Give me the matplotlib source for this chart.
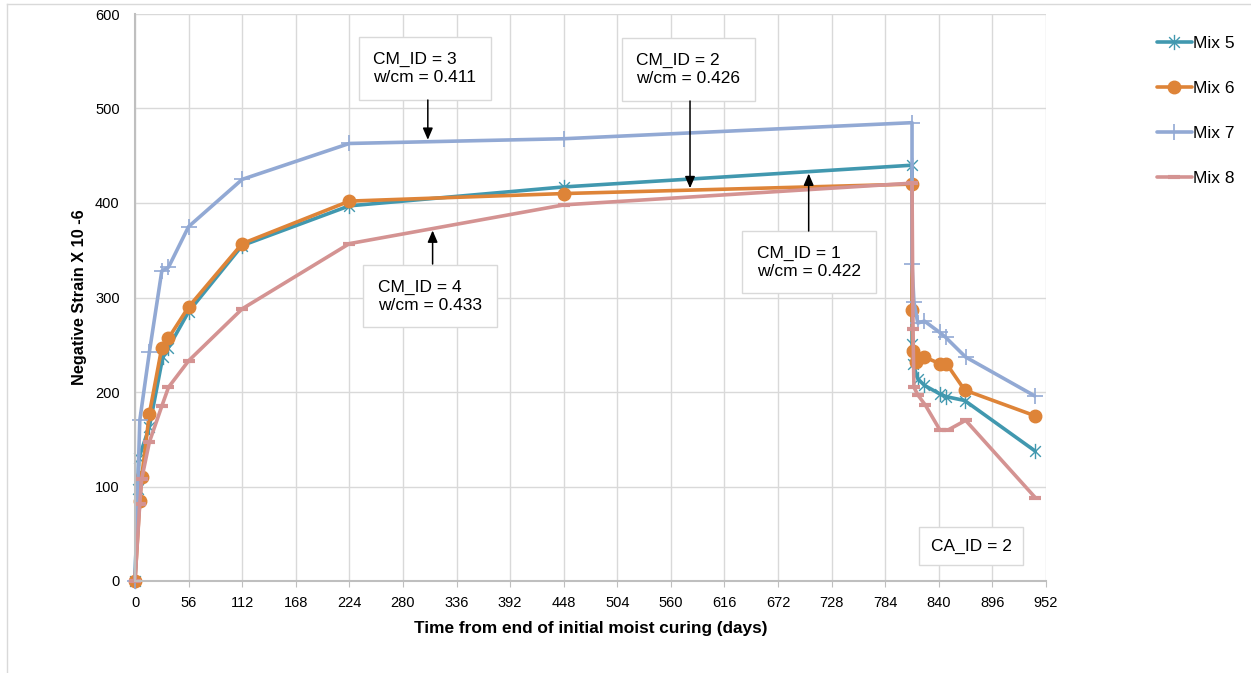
import numpy as np
import matplotlib
matplotlib.use("Agg")
import matplotlib.pyplot as plt
from matplotlib.path import Path
from matplotlib.lines import Line2D

plt.rcParams["font.family"] = ["Liberation Sans", "DejaVu Sans"]

# days after end of initial moist curing
days5 = [0, 3, 4, 15, 29, 35, 56, 112, 224, 448, 812, 812, 813, 818, 825, 841, 848, 867, 940]
days6 = [0, 5, 7, 15, 28, 35, 56, 112, 224, 448, 812, 812, 813, 816, 825, 841, 848, 867, 940]
days7 = [0, 5, 15, 28, 35, 56, 112, 224, 448, 812, 812, 814, 818, 825, 841, 847, 868, 940]
days8 = [0, 5, 7, 15, 28, 35, 56, 112, 224, 448, 812, 813, 814, 818, 826, 841, 850, 868, 941]

# negative strain x 10^-6
mix5 = [0, 97, 130, 163, 237, 247, 285, 355, 397, 417, 440, 251, 230, 214, 207, 198, 195, 191, 138]
mix6 = [0, 85, 110, 177, 247, 257, 290, 357, 402, 410, 420, 287, 243, 232, 237, 230, 230, 202, 175]
mix7 = [0, 170, 242, 328, 332, 375, 425, 463, 468, 485, 335, 295, 273, 275, 263, 258, 237, 196]
mix8 = [0, 82, 108, 147, 185, 205, 233, 288, 357, 398, 421, 267, 205, 197, 186, 160, 160, 170, 88]

labels = ["Mix 5", "Mix 6", "Mix 7", "Mix 8"]
xticks = list(range(0, 953, 56))
yticks = list(range(0, 601, 100))

# asterisk marker (x with a vertical bar)
star = Path([(0, -1), (0, 1), (-0.7, -0.7), (0.7, 0.7), (-0.7, 0.7), (0.7, -0.7)],
            [Path.MOVETO, Path.LINETO] * 3)

c5, c6, c7, c8 = "#4198AF", "#DE8438", "#92A9D4", "#D49392"

fig = plt.figure(figsize=(12.51, 6.73), dpi=100)
ax = fig.add_axes([135 / 1251, 1 - 581 / 673, 911 / 1251, 567 / 673])

kw = dict(lw=2.6, solid_joinstyle="round", solid_capstyle="round", clip_on=False)
ax.plot(days5, mix5, color=c5, marker=star, ms=11, mfc="none", mec=c5, mew=1.0, label=labels[0], **kw)
ax.plot(days6, mix6, color=c6, marker="o", ms=9, mec=c6, label=labels[1], **kw)
ax.plot(days7, mix7, color=c7, marker="+", ms=12, mew=1.2, label=labels[2], **kw)
ax.plot(days8, mix8, color=c8, marker="_", ms=8, mew=3, label=labels[3], **kw)

ax.set_xlim(0, 952)
ax.set_ylim(0, 600)
ax.set_xticks(xticks)
ax.set_yticks(yticks)
ax.grid(True, color="#d9d9d9", lw=1)
ax.set_axisbelow(True)
for s in ["top", "right"]:
    ax.spines[s].set_visible(False)
for s in ["left", "bottom"]:
    ax.spines[s].set_color("#bfbfbf")
    ax.spines[s].set_linewidth(1.5)
ax.tick_params(axis="x", length=4, color="#bfbfbf", pad=7, labelsize=10.5)
ax.tick_params(axis="y", length=0, pad=11, labelsize=10.5)

ax.set_xlabel("Time from end of initial moist curing (days)", fontsize=12.4, fontweight="bold")
ax.set_ylabel("Negative Strain X 10 -6", fontsize=11.7, fontweight="bold")
ax.xaxis.set_label_coords(0.5, -0.083)
ax.xaxis.label.set_va("center")
ax.yaxis.set_label_coords(-0.0604, 0.5)
ax.yaxis.label.set_va("center")

# callout boxes with arrows pointing at the curves
box = dict(boxstyle="square,pad=0.85", fc="white", ec="#d9d9d9", lw=1)
notes = [
    ("CM_ID = 3\nw/cm = 0.411", 249, 542, 306, days7[:10], mix7[:10], 100, 1),
    ("CM_ID = 2\nw/cm = 0.426", 524, 541, 580, days6[:11], mix6[:11], 101, 1),
    ("CM_ID = 4\nw/cm = 0.433", 254, 301.5, 311, days8[:11], mix8[:11], 264, -1),
    ("CM_ID = 1\nw/cm = 0.422", 650, 337.5, 704, days5[:11], mix5[:11], 231, -1),
]
for txt, tx, ty, ax_x, dx, dy, ypix, side in notes:
    ax.text(tx, ty, txt, fontsize=12.5, ha="left", va="center", bbox=box, linespacing=1.25)
    tip = np.interp(ax_x, dx, dy) + 2 * side
    start = (581 - ypix) / 0.945
    ax.annotate("", xy=(ax_x, tip), xytext=(ax_x, start),
                arrowprops=dict(arrowstyle="-|>,head_length=0.7,head_width=0.3", color="black", lw=1.1,
                                shrinkA=0, shrinkB=0))

ax.text((971 - 135) / 0.957, (581 - 546) / 0.945, "CA_ID = 2", fontsize=12.5,
        ha="center", va="center", bbox=dict(boxstyle="square,pad=0.65", fc="white", ec="#d9d9d9", lw=1))

fig.legend(loc="upper left", bbox_to_anchor=(1157 / 1251, 1 - 36 / 673), frameon=False,
           fontsize=12.5, handlelength=2.0, handletextpad=0.1, labelspacing=1.72,
           borderpad=0, borderaxespad=0)

# outer chart border
fig.add_artist(Line2D([7 / 1251, 7 / 1251], [0, 1 - 4 / 673], color="#d9d9d9", lw=1, transform=fig.transFigure))
fig.add_artist(Line2D([7 / 1251, 1], [1 - 4 / 673, 1 - 4 / 673], color="#d9d9d9", lw=1, transform=fig.transFigure))

fig.savefig("out.png", dpi=100)
